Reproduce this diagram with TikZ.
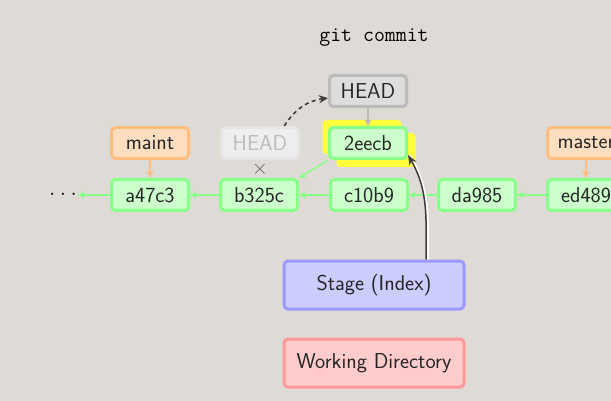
\documentclass[tikz,border=0pt]{standalone}
\usetikzlibrary{arrows.meta}
\definecolor{bg}{RGB}{222,219,214}
\definecolor{cfill}{RGB}{204,255,204}
\definecolor{cborder}{RGB}{136,255,136}
\definecolor{bfill}{RGB}{255,222,192}
\definecolor{bborder}{RGB}{255,190,128}
\definecolor{hfill}{RGB}{221,221,221}
\definecolor{hborder}{RGB}{187,187,187}
\definecolor{ofill}{RGB}{238,238,238}
\definecolor{oborder}{RGB}{230,230,230}
\definecolor{otext}{RGB}{187,187,187}
\definecolor{sfill}{RGB}{204,204,255}
\definecolor{sborder}{RGB}{153,153,255}
\definecolor{wfill}{RGB}{255,204,204}
\definecolor{wborder}{RGB}{255,153,153}
\definecolor{hilite}{RGB}{255,255,60}
\definecolor{darkarrow}{RGB}{60,60,60}
\begin{document}
\begin{tikzpicture}[x=1pt,y=-1pt,
  font=\fontsize{21.6}{26}\selectfont\sffamily,
  base/.style={rounded corners=4pt, line width=3pt, minimum width=77pt,
    minimum height=31pt, inner sep=0pt, text=black!85},
  commit/.style={base, draw=cborder, fill=cfill},
  branch/.style={base, draw=bborder, fill=bfill},
  headbox/.style={base, draw=hborder, fill=hfill},
  oldhead/.style={base, draw=oborder, fill=ofill, text=otext},
  hl/.style={rounded corners=4pt, fill=hilite, minimum width=79pt,
    minimum height=34pt, inner sep=0pt},
  area/.style={base, minimum width=180pt, minimum height=48pt},
  carrow/.style={draw=cborder, line width=1.5pt, -{Stealth[length=7pt,width=7pt]}},
  barrow/.style={draw=bborder, line width=1.5pt, -{Stealth[length=7pt,width=7pt]}},
  harrow/.style={draw=hborder, line width=1.5pt, -{Stealth[length=7pt,width=7pt]}},
  dasharrow/.style={draw=darkarrow, line width=1.6pt, dash pattern=on 4pt off 3.5pt,
    -{Stealth[length=9pt,width=8pt]}},
]
\useasboundingbox (0,0) rectangle (611,401);
\fill[bg] (0,0) rectangle (611,401);
\clip (0,0) rectangle (611,401);

\node[font=\fontsize{21.2}{26}\selectfont\ttfamily] (cmd) at (374,38) {git commit};

% highlight behind new commit
\node[hl] (hla) at (362,137) {};
\node[hl] (hlb) at (376,150) {};

% commits
\node[commit] (a47c3) at (150,195) {a47c3};
\node[commit] (b325c) at (259,195) {b325c};
\node[commit] (c10b9) at (369,195) {c10b9};
\node[commit] (da985) at (477,195) {da985};
\node[commit] (ed489) at (586,195) {ed489};
\node[commit] (c2eecb) at (368,143) {2eecb};
\node[inner sep=1pt] (dots) at (63,195) {$\cdot$\hspace{5pt}$\cdot$\hspace{5pt}$\cdot$};

% branches
\node[branch] (maint) at (150,143) {maint};
\node[branch] (master) at (586,143) {master};
\node[headbox] (head) at (368,91) {HEAD};
\node[oldhead] (headold) at (260,143) {HEAD};
\node[text=black!60] (cross) at (260,169) {$\times$};

% areas
\node[area, draw=sborder, fill=sfill] (stage) at (374,285) {Stage (Index)};
\node[area, draw=wborder, fill=wfill] (work) at (374,363) {Working Directory};

% commit links
\draw[carrow] (ed489.west) -- (da985.east);
\draw[carrow] (da985.west) -- (c10b9.east);
\draw[carrow] (c10b9.west) -- (b325c.east);
\draw[carrow] (b325c.west) -- (a47c3.east);
\draw[carrow] (a47c3.west) -- (dots.east);
\draw[carrow] (c2eecb.south west) -- (b325c.north east);

% refs
\draw[barrow] (maint.south) -- (a47c3.north);
\draw[barrow] (master.south) -- (ed489.north);
\draw[harrow] (head.south) -- (c2eecb.north);
\draw[dasharrow] (headold.35) to[bend left=25] (head.190);

% commit arrow
\draw[white, line width=2pt, transform canvas={xshift=2pt}] ([xshift=52pt]stage.north) to[out=90, in=-60] ([yshift=5pt]c2eecb.south east);
\draw[darkarrow, line width=1.5pt, -{Stealth[length=10pt,width=8pt]}] ([xshift=52pt]stage.north) to[out=90, in=-60] ([yshift=5pt]c2eecb.south east);
\end{tikzpicture}
\end{document}
